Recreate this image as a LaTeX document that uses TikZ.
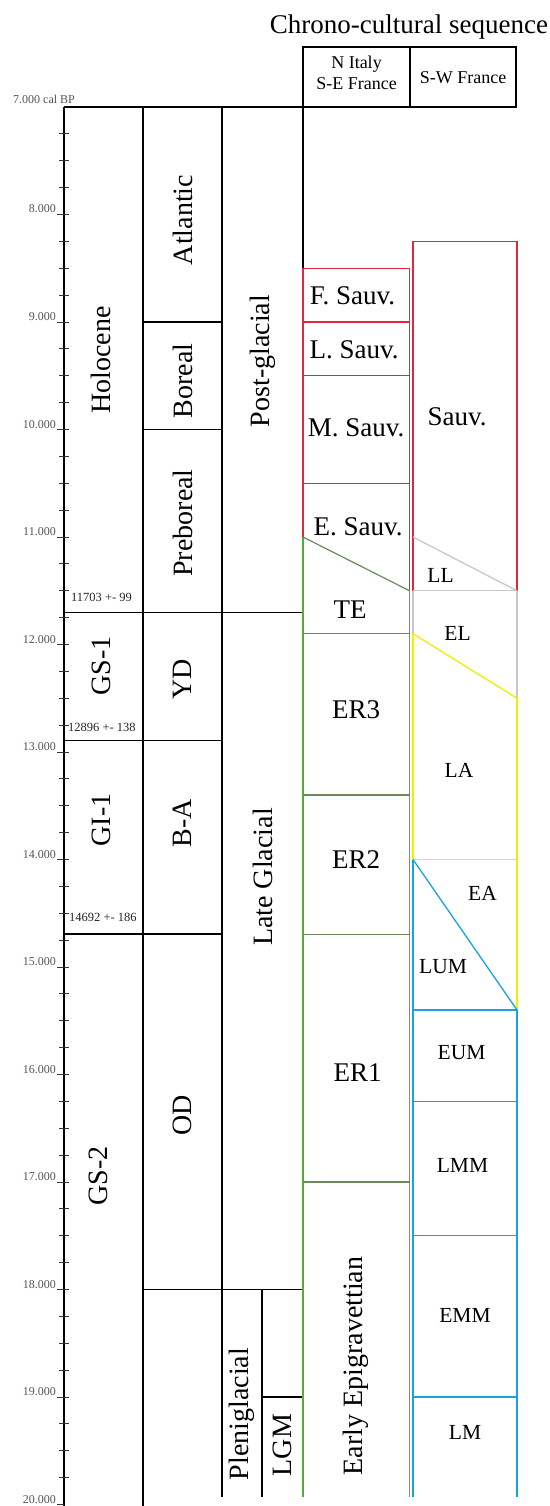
\documentclass[tikz,border=0pt]{standalone}
\usepackage{fontspec}
\setmainfont{Liberation Serif}
\usepackage{tikz}
\definecolor{sauvred}{HTML}{E0283C}
\definecolor{epigreen}{HTML}{4DB03A}
\definecolor{epidark}{HTML}{6A8A5A}
\definecolor{azilgray}{HTML}{C8C8C8}
\definecolor{azilyellow}{HTML}{F2EE00}
\definecolor{magblue}{HTML}{1AA3D9}
\definecolor{axisgray}{HTML}{555555}
\tikzset{
  frameline/.style={draw=black,line width=1.3pt},
  axisline/.style={draw=black,line width=2.4pt},
  tickline/.style={draw=black!80,line width=0.8pt},
  redline/.style={draw=sauvred,line width=1.3pt},
  greenline/.style={draw=epigreen,line width=1.3pt},
  darkline/.style={draw=epidark,line width=1.2pt},
  grayline/.style={draw=azilgray,line width=1.3pt},
  yellowline/.style={draw=azilyellow,line width=1.3pt},
  blueline/.style={draw=magblue,line width=1.3pt},
  periodlabel/.style={rotate=90,font=\fontsize{28}{28}\selectfont,inner sep=0pt},
  culturelabel/.style={font=\fontsize{27}{27}\selectfont,inner sep=0pt},
  phaselabel/.style={font=\fontsize{21.5}{21.5}\selectfont,inner sep=0pt},
  headlabel/.style={font=\fontsize{18}{21}\selectfont,align=center,inner sep=0pt},
  yearlabel/.style={font=\fontsize{12}{12}\selectfont,text=axisgray,anchor=base east,inner sep=0pt},
  datelabel/.style={font=\fontsize{12.5}{12.5}\selectfont,text=black!85,anchor=west,inner sep=0pt}
}
\begin{document}
\begin{tikzpicture}[x=1pt,y=-1pt]
  \useasboundingbox (0,0) rectangle (549,1506);
  \fill[white] (0,0) rectangle (549,1506);
  % title and column heads
  \node[font=\fontsize{27}{27}\selectfont,inner sep=0pt] (title) at (409,27) {Chrono-cultural sequence};
  \draw[frameline] (303,47) rectangle (516,107);
  \draw[frameline] (410,47) -- (410,107);
  \node[headlabel] (hitaly) at (356.5,73) {N Italy\\S-E France};
  \node[headlabel] (hsw) at (463,78) {S-W France};
  % time scale, y in thousand years
  \begin{scope}[y=-107.5pt,yshift=645.5pt]
    \draw[axisline] (64,7) -- (64,20.1);
    \foreach \k in {7.25,7.5,...,19.75}
      \draw[tickline] (59,\k) -- (69,\k);
    \foreach \k in {8,...,20} {
      \draw[tickline] (57,\k) -- (64,\k);
      \node[yearlabel] (yr\k) at (56,\k) [yshift=1.5pt] {\k.000};
    }
    \node[yearlabel,anchor=base west] (yr7) at (13,7) [yshift=3pt] {7.000 cal BP};
    % frame of the climate columns
    \draw[frameline] (64,7) -- (303,7);
    \draw[frameline] (143,7) -- (143,20.1);
    \draw[frameline] (222,7) -- (222,19.93);
    \draw[frameline] (303,7) -- (303,8.5);
    \draw[frameline] (64,11.703) -- (303,11.703);
    \draw[frameline] (64,12.896) -- (222,12.896);
    \draw[frameline] (64,14.692) -- (222,14.692);
    \draw[frameline] (143,9) -- (222,9);
    \draw[frameline] (143,10) -- (222,10);
    \draw[frameline] (143,18) -- (303,18);
    \draw[frameline] (262,18) -- (262,19.93);
    \draw[frameline] (262,19) -- (303,19);
    % N Italy / S-E France
    \draw[redline] (303,11) -- (303,8.5) -- (409.5,8.5) -- (409.5,11.5);
    \foreach \k in {9,9.5,10.5}
      \draw[redline] (303,\k) -- (409.5,\k);
    \draw[greenline] (303,11) -- (303,19.93);
    \draw[greenline] (409.5,11.5) -- (409.5,19.93);
    \draw[darkline] (303,11) -- (409.5,11.5);
    \foreach \k in {11.9,13.4,14.7,17}
      \draw[darkline] (303,\k) -- (409.5,\k);
    % S-W France
    \draw[redline] (413,11.5) -- (413,8.25) -- (517,8.25) -- (517,11.5);
    \draw[grayline] (413,11) -- (517,11.5);
    \draw[grayline] (413,11.5) -- (517,11.5);
    \draw[grayline] (413,11.5) -- (413,11.9);
    \draw[grayline] (517,11.5) -- (517,12.5);
    \draw[yellowline] (413,11.9) -- (517,12.5);
    \draw[yellowline] (413,11.9) -- (413,14);
    \draw[yellowline] (517,12.5) -- (517,15.4);
    \draw[yellowline] (413,14) -- (517,14);
    \draw[blueline] (413,14) -- (517,15.4);
    \draw[blueline] (413,14) -- (413,19.93);
    \draw[blueline] (517,15.4) -- (517,19.93);
    \foreach \k in {15.4,16.25,17.5,19}
      \draw[blueline] (413,\k) -- (517,\k);
  \end{scope}
  % GICC dates
  \node[datelabel] (d1) at (71,597) {11703 +- 99};
  \node[datelabel] (d2) at (68,727) {12896 +- 138};
  \node[datelabel] (d3) at (69,917) {14692 +- 186};
  % climate and period labels
  \node[periodlabel] (holocene) at (101,360) {Holocene};
  \node[periodlabel] (gs1) at (101,666) {GS-1};
  \node[periodlabel] (gi1) at (101,820) {GI-1};
  \node[periodlabel] (gs2) at (98,1176) {GS-2};
  \node[periodlabel] (atlantic) at (182.5,220) {Atlantic};
  \node[periodlabel] (boreal) at (182.5,381) {Boreal};
  \node[periodlabel] (preboreal) at (182.5,523) {Preboreal};
  \node[periodlabel] (yd) at (182.5,679) {YD};
  \node[periodlabel] (ba) at (182.5,823) {B-A};
  \node[periodlabel] (od) at (182.5,1115) {OD};
  \node[periodlabel] (postglacial) at (262.5,361) {Post-glacial};
  \node[periodlabel] (lateglacial) at (262.5,877) {Late Glacial};
  \node[periodlabel] (pleniglacial) at (242,1414) {Pleniglacial};
  \node[periodlabel] (lgm) at (282.5,1445) {LGM};
  \node[periodlabel] (earlyepi) at (356,1366) {Early Epigravettian};
  % cultural phases
  \node[culturelabel] (fsauv) at (352.5,296) {F. Sauv.};
  \node[culturelabel] (lsauv) at (354,350) {L. Sauv.};
  \node[culturelabel] (msauv) at (356,428) {M. Sauv.};
  \node[culturelabel] (esauv) at (358,527) {E. Sauv.};
  \node[culturelabel] (te) at (350,610) {TE};
  \node[culturelabel] (er3) at (356,710) {ER3};
  \node[culturelabel] (er2) at (356,860) {ER2};
  \node[culturelabel] (er1) at (357.5,1073) {ER1};
  \node[culturelabel] (sauv) at (457,417) {Sauv.};
  \node[phaselabel] (ll) at (440.5,575) {LL};
  \node[phaselabel] (el) at (457.5,633) {EL};
  \node[phaselabel] (la) at (459,770) {LA};
  \node[phaselabel] (ea) at (482.5,893) {EA};
  \node[phaselabel] (lum) at (443,967) {LUM};
  \node[phaselabel] (eum) at (461.5,1053) {EUM};
  \node[phaselabel] (lmm) at (462.5,1165) {LMM};
  \node[phaselabel] (emm) at (465,1315) {EMM};
  \node[phaselabel] (lm) at (465,1432) {LM};
\end{tikzpicture}
\end{document}
